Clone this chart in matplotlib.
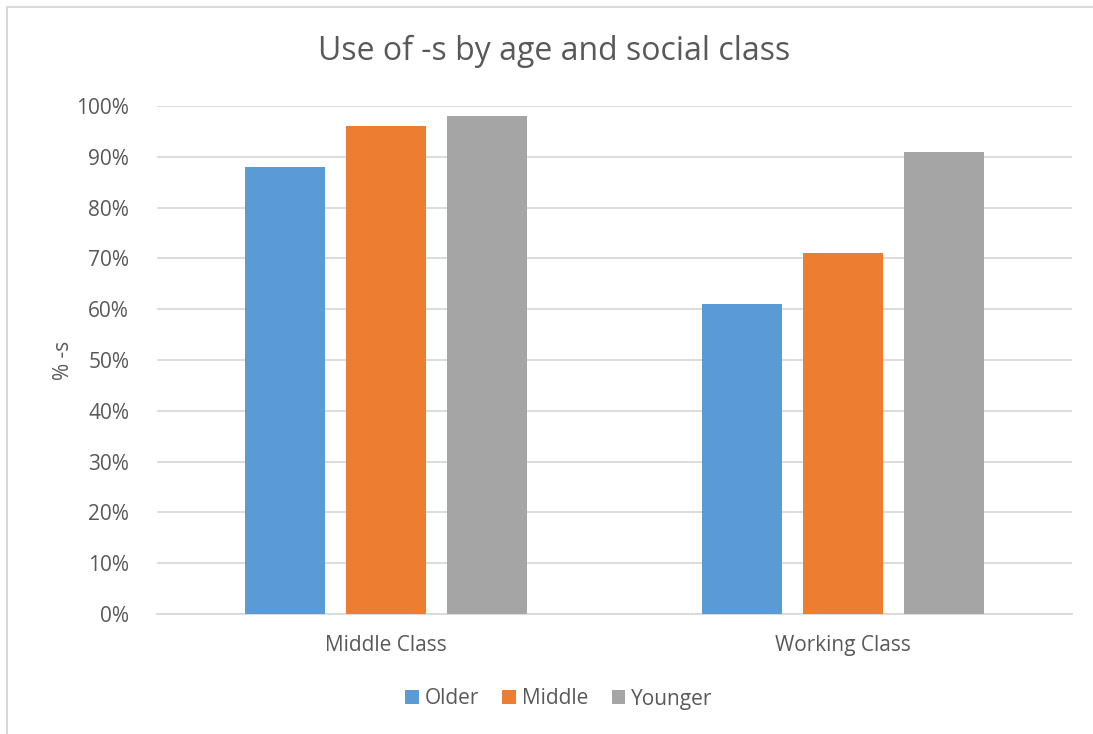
import matplotlib
matplotlib.use("Agg")
import matplotlib.pyplot as plt
from matplotlib.patches import Rectangle
from matplotlib.ticker import FuncFormatter, MultipleLocator
import numpy as np

categories = ["Middle Class", "Working Class"]
series_names = ["Older", "Middle", "Younger"]
older = [88, 61]
middle = [96, 71]
younger = [98, 91]
colors = ["#5b9bd5", "#ed7d31", "#a5a5a5"]

plt.rcParams['font.family'] = ['Open Sans', 'DejaVu Sans']
txt = "#595959"

W, H = 1093, 734
fig = plt.figure(figsize=(W/100, H/100), dpi=100)

# chart border (cropped on right/bottom)
fig.patches.append(Rectangle((7/W, -0.1), 1.2, 1 - 7/H + 0.1, transform=fig.transFigure,
                             fill=False, edgecolor="#d9d9d9", linewidth=1.5))

ax = fig.add_axes([157/W, 1 - 614/H, (1072-157)/W, (614-106)/H])
x = np.arange(len(categories))
bw = 80/457.5
off = 101/457.5
for i, (vals, name) in enumerate(zip([older, middle, younger], series_names)):
    ax.bar(x + (i-1)*off, vals, width=bw, color=colors[i], label=name, zorder=3)

ax.set_xlim(-0.5, 1.5)
ax.set_ylim(0, 100)
ax.yaxis.set_major_locator(MultipleLocator(10))
ax.yaxis.set_major_formatter(FuncFormatter(lambda v, p: f"{int(round(v))}%"))
ax.grid(axis='y', color="#d9d9d9", linewidth=1.3, zorder=0)
for s in ["top", "right", "left"]:
    ax.spines[s].set_visible(False)
ax.spines["bottom"].set_color("#d9d9d9")
ax.spines["bottom"].set_linewidth(1.3)
ax.set_xticks(x)
ax.set_xticklabels(categories)
ax.tick_params(axis='both', length=0, colors=txt, labelsize=15)
ax.tick_params(axis='x', pad=15)
ax.tick_params(axis='y', pad=20)
ax.set_ylabel("% -s", color=txt, fontsize=15, labelpad=2)

fig.text(554/W, 1 - 51/H, "Use of -s by age and social class", ha='center', va='center',
         fontsize=23, color=txt)

leg = fig.legend(loc='center', bbox_to_anchor=(559/W, 1 - 699/H), ncol=3, frameon=False,
                 fontsize=15, handlelength=0.65, handleheight=0.65, handletextpad=0.3,
                 columnspacing=1.1)
for t in leg.get_texts():
    t.set_color(txt)

fig.savefig("out.png", dpi=100)
